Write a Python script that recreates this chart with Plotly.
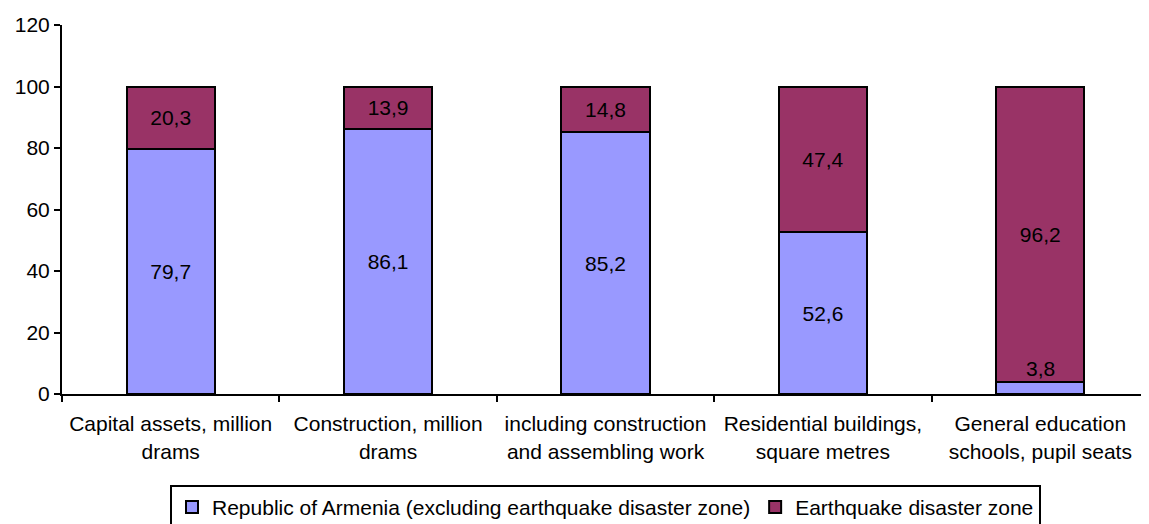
import plotly.graph_objects as go

categories = [
    "Capital assets, million<br>drams",
    "Construction, million<br>drams",
    "including construction<br>and assembling work",
    "Residential buildings,<br>square metres",
    "General education<br>schools, pupil seats",
]
armenia = [79.7, 86.1, 85.2, 52.6, 3.8]
disaster = [20.3, 13.9, 14.8, 47.4, 96.2]
series_names = ["Republic of Armenia (excluding earthquake disaster zone)", "Earthquake disaster zone"]
y_ticks = [0, 20, 40, 60, 80, 100, 120]

def fmt(v):
    return f"{v:.1f}".replace(".", ",")

FONT = "Liberation Sans, Arial, sans-serif"
FS = 21
SMALL = 5.0

arm_text = [fmt(v) if v >= SMALL else "" for v in armenia]

fig = go.Figure()
fig.add_trace(go.Bar(
    x=categories, y=armenia, name=series_names[0],
    marker=dict(color="#9999FF", line=dict(color="black", width=2)),
    text=arm_text, textposition="inside", insidetextanchor="middle",
    textfont=dict(color="black", size=FS, family=FONT),
))
fig.add_trace(go.Bar(
    x=categories, y=disaster, name=series_names[1],
    marker=dict(color="#993366", line=dict(color="black", width=2)),
    text=[fmt(v) for v in disaster], textposition="inside", insidetextanchor="middle",
    textfont=dict(color="black", size=FS, family=FONT),
))
for c, v in zip(categories, armenia):
    if v < SMALL:
        fig.add_annotation(x=c, y=v, text=fmt(v), showarrow=False, yanchor="bottom",
                           font=dict(color="black", size=FS, family=FONT))

fig.update_layout(
    barmode="stack", bargap=0.595,
    width=1141, height=516,
    margin=dict(l=54, r=0, t=17, b=130, autoexpand=False),
    plot_bgcolor="white", paper_bgcolor="white",
    font=dict(family=FONT, size=FS, color="black"),
    showlegend=True,
    legend=dict(orientation="h", x=0.5, xanchor="center", y=-0.368, yanchor="bottom",
                bordercolor="black", borderwidth=2, font=dict(size=FS),
                traceorder="normal", itemwidth=30),
    uniformtext=dict(mode="show", minsize=FS),
)
fig.update_xaxes(showline=True, linecolor="black", linewidth=2, ticks="outside",
                 tickson="boundaries", ticklen=6, tickcolor="black", tickwidth=2,
                 tickfont=dict(size=FS), automargin=False, ticklabelstandoff=10)
fig.update_yaxes(range=[0, 120], tickvals=y_ticks, showline=True, linecolor="black",
                 linewidth=2, ticks="outside", ticklen=6, tickcolor="black", tickwidth=2,
                 showgrid=False, zeroline=False, tickfont=dict(size=FS), automargin=False)
fig.write_html("out.html")
